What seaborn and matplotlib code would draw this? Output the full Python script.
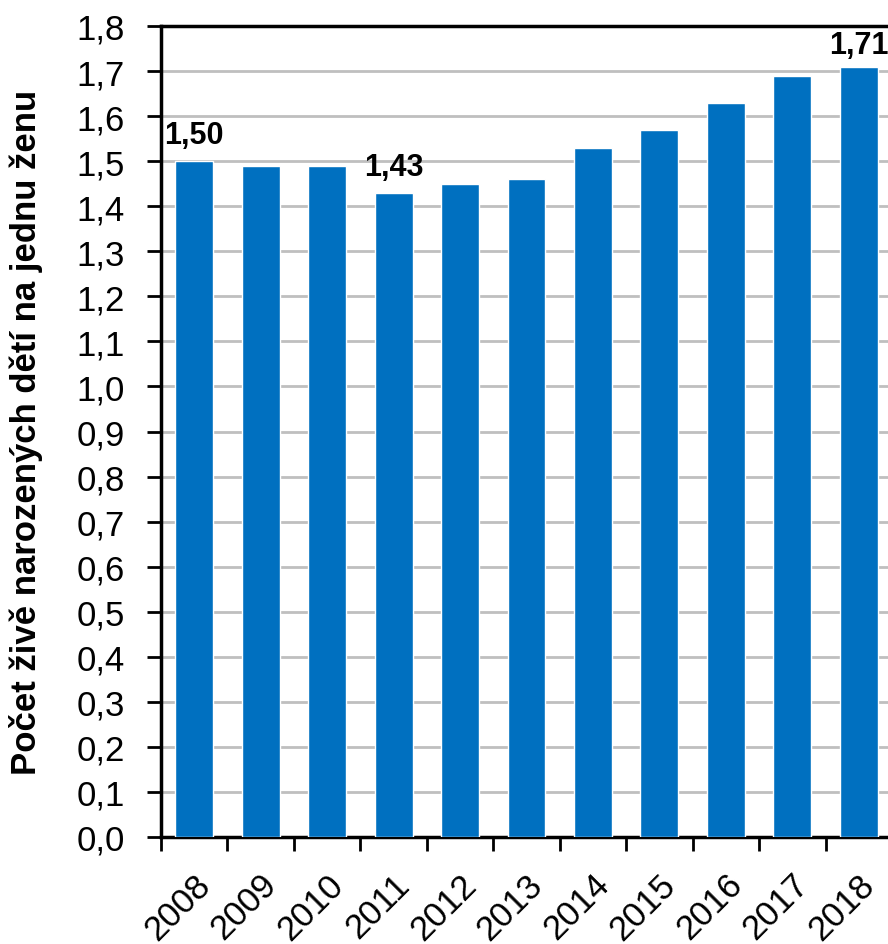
import pandas as pd
import numpy as np
import matplotlib
matplotlib.use('Agg')
import matplotlib.pyplot as plt
import matplotlib.transforms as mtransforms
import seaborn as sns

years = ['2008', '2009', '2010', '2011', '2012', '2013', '2014', '2015', '2016', '2017', '2018']
rates = [1.50, 1.49, 1.49, 1.43, 1.45, 1.46, 1.53, 1.57, 1.63, 1.69, 1.71]
labelled = {'2008': '1,50', '2011': '1,43', '2018': '1,71'}

sns.set_style('white')
plt.rcParams['font.family'] = ['Liberation Sans', 'DejaVu Sans']
plt.rcParams['text.color'] = 'black'
plt.rcParams['xtick.color'] = 'black'
plt.rcParams['ytick.color'] = 'black'
plt.rcParams['axes.labelcolor'] = 'black'

df = pd.DataFrame({'Rok': years, 'Plodnost': rates})

fig = plt.figure(figsize=(8.88, 9.45), dpi=100)
ax = fig.add_axes([161 / 888, 1 - 838 / 945, 731 / 888, (838 - 27) / 945])

sns.barplot(data=df, x='Rok', y='Plodnost', color='#0070C0', saturation=1,
            width=0.57, ax=ax, zorder=3)

ax.set_ylim(0, 1.8)
ax.set_xlim(-0.5, len(years) - 0.5)
yt = np.round(np.arange(0, 1.81, 0.1), 1)
ax.set_yticks(yt)
ax.set_yticklabels([f'{v:.1f}'.replace('.', ',') for v in yt], fontsize=25)
ax.yaxis.grid(True, color='#BFBFBF', linewidth=2, zorder=0)
ax.set_axisbelow(True)

# tick marks between categories
ax.set_xticks(np.arange(-0.5, len(years) - 0.5, 1), minor=True)
ax.tick_params(axis='x', which='minor', direction='out', length=10, width=2, color='black', bottom=True)
ax.tick_params(axis='x', which='major', length=0, pad=0)
ax.tick_params(axis='y', which='major', direction='out', length=10, width=2, color='black', left=True, pad=16)

for lab in ax.get_xticklabels():
    lab.set_rotation(45)
    lab.set_ha('right')
    lab.set_va('center')
    lab.set_rotation_mode('anchor')
    lab.set_fontsize(25)
    lab.set_transform(lab.get_transform() + mtransforms.ScaledTranslation(0.11, -0.42, fig.dpi_scale_trans))

for s in ['left', 'bottom', 'top']:
    ax.spines[s].set_visible(True)
    ax.spines[s].set_color('black')
    ax.spines[s].set_linewidth(2.5)
ax.spines['right'].set_visible(False)

for i, y in enumerate(years):
    if y in labelled:
        off = 5 if y == '2018' else 8
        ax.annotate(labelled[y], (i, rates[i]), xytext=(0, off), textcoords='offset points',
                    ha='center', va='bottom', fontsize=22, fontweight='bold')

ax.set_xlabel('')
ax.set_ylabel('Počet živě narozených dětí na jednu ženu', fontsize=25, fontweight='bold')
ax.yaxis.set_label_coords(-0.161, 0.5)

fig.savefig('out.png', dpi=100)
